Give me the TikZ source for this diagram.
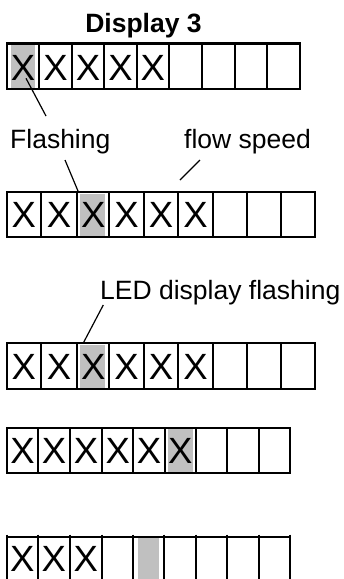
\documentclass[tikz,border=0pt]{standalone}
\usepackage{fontspec}
\setmainfont{Liberation Sans}
\definecolor{flash}{HTML}{C0C0C0}
\tikzset{
  frame/.style={line width=2.2pt, line cap=rect},
  divider/.style={line width=2.2pt},
  pointer/.style={line width=1.2pt},
  glyph/.style={inner sep=0pt, anchor=base, font=\fontsize{36.5}{37}\selectfont},
  label/.style={inner sep=0pt, anchor=base west, font=\fontsize{26.5}{27}\selectfont},
  shade/.style={fill=flash}
}
\begin{document}
\begin{tikzpicture}[x=1pt,y=-1pt]
\useasboundingbox (0,0) rectangle (344,579);
\clip (0,0) rectangle (344,579);
% title
\node[inner sep=0pt, anchor=base, font=\fontsize{26.5}{27}\selectfont\bfseries] (title) at (143.5,32.3) {Display 3};
% ---------- row 1
\fill[shade] (11,45) rectangle (35,88);
\draw[frame] (6.7,43.5) rectangle (300,89);
\foreach \x in {39.3,71.7,104.3,136.7,169,201.7,235,267.3}
  \draw[divider] (\x,43.5) -- (\x,89);
\foreach \a/\b [count=\i] in {6.7/39.3,39.3/71.7,71.7/104.3,104.3/136.7,136.7/169}
  \node[glyph] (ra\i) at ({(\a+\b)/2},80) {X};
% ---------- labels
\node[label] (flash) at (10,148.3) {Flashing};
\node[label] (speed) at (184,148.3) {flow speed};
\node[label] (led) at (100,299) {LED display flashing};
% ---------- row 2
\fill[shade] (80,193.5) rectangle (105,235.5);
\draw[frame] (6.7,192.3) rectangle (315,236.7);
\foreach \x in {40.7,77.3,109.3,144,178.3,212.7,247.3,281}
  \draw[divider] (\x,192.3) -- (\x,236.7);
\foreach \a/\b [count=\i] in {6.7/40.7,40.7/77.3,77.3/109.3,109.3/144,144/178.3,178.3/212.7}
  \node[glyph] (rb\i) at ({(\a+\b)/2},227.3) {X};
% ---------- row 3
\fill[shade] (80,344.5) rectangle (104.7,388);
\draw[frame] (6.7,343.3) rectangle (315,389);
\foreach \x in {40.7,77.3,109.3,144,178.3,212.7,247.3,281}
  \draw[divider] (\x,343.3) -- (\x,389);
\foreach \a/\b [count=\i] in {6.7/40.7,40.7/77.3,77.3/109.3,109.3/144,144/178.3,178.3/212.7}
  \node[glyph] (rc\i) at ({(\a+\b)/2},379.5) {X};
% ---------- row 4
\fill[shade] (167.7,429) rectangle (193.3,472);
\draw[frame] (6.7,427.7) rectangle (290,473.3);
\foreach \x in {38.3,70,102.3,133.3,164.7,196,227.3,259.3}
  \draw[divider] (\x,427.7) -- (\x,473.3);
\foreach \a/\b [count=\i] in {6.7/38.3,38.3/70,70/102.3,102.3/133.3,133.3/164.7,164.7/196}
  \node[glyph] (rd\i) at ({(\a+\b)/2},463.7) {X};
% ---------- row 5 (cut off at the bottom)
\fill[shade] (138.3,538) rectangle (159.3,585);
\draw[frame] (6.7,536.7) -- (290,536.7);
\foreach \x in {6.7,37.7,70,101.7,133.3,164,196,227.3,259,290}
  \draw[divider] (\x,534.5) -- (\x,590);
\foreach \a/\b [count=\i] in {6.7/37.7,37.7/70,70/101.7}
  \node[glyph] (re\i) at ({(\a+\b)/2},571.7) {X};
% ---------- pointer lines
\coordinate (p1a) at (26,78.3);
\coordinate (p1b) at (46,116);
\coordinate (p2a) at (65,160);
\coordinate (p2b) at (78,191);
\coordinate (p3a) at (200,160);
\coordinate (p3b) at (180,180);
\coordinate (p4a) at (103.3,305);
\coordinate (p4b) at (83.3,343);
\draw[pointer] (p1a) -- (p1b);
\draw[pointer] (p2a) -- (p2b);
\draw[pointer] (p3a) -- (p3b);
\draw[pointer] (p4a) -- (p4b);
\end{tikzpicture}
\end{document}
